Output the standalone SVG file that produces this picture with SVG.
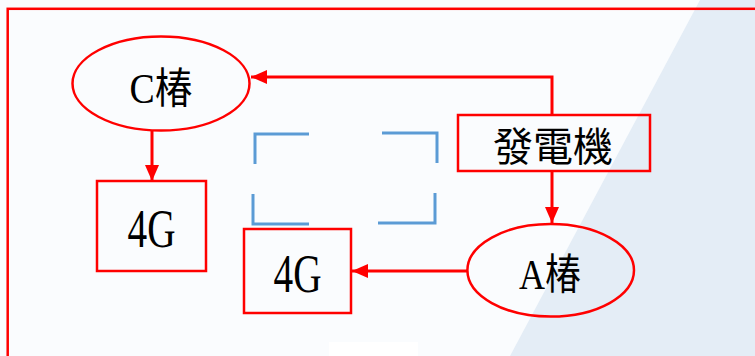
<svg xmlns="http://www.w3.org/2000/svg" width="755" height="356" viewBox="0 0 755 356">
<defs>
<style>
.shape{fill:none;stroke:#ff0000;stroke-width:2.5}
.conn{fill:none;stroke:#ff0000;stroke-width:3}
.bracket{fill:none;stroke:#5b9bd5;stroke-width:3}
.lbl{font-family:"Liberation Serif","Noto Sans CJK TC",serif;fill:#000;text-anchor:middle}
</style>
<marker id="arr" viewBox="0 0 16 14" refX="16" refY="7" markerWidth="16" markerHeight="14" markerUnits="userSpaceOnUse" orient="auto">
<path d="M0,0 L16,7 L0,14 Z" fill="#ff0000"/>
</marker>
</defs>
<rect x="0" y="0" width="755" height="356" fill="#fafcfe"/>
<polygon points="700,0 755,0 755,356 510,356" fill="#e4edf6"/>
<rect x="329" y="342" width="89" height="14" fill="#ffffff"/>
<rect x="7.7" y="8.8" width="800" height="400" fill="none" stroke="#ff0000" stroke-width="2.5"/>
<g id="brackets">
<path class="bracket" d="M309,134 H255 V164"/>
<path class="bracket" d="M382,133 H437 V163"/>
<path class="bracket" d="M253,194 V224 H309"/>
<path class="bracket" d="M435,193 V223 H378"/>
</g>
<g id="connectors">
<path class="conn" d="M552,115 V77 H251" marker-end="url(#arr)"/>
<path class="conn" d="M552,171 V223" marker-end="url(#arr)"/>
<path class="conn" d="M467,271 H352" marker-end="url(#arr)"/>
<path class="conn" d="M152,130 V181" marker-end="url(#arr)"/>
</g>
<g id="node-c">
<ellipse class="shape" cx="161" cy="83.5" rx="88.5" ry="47"/>
<text class="lbl" x="161" y="102.5" font-size="42" textLength="63" lengthAdjust="spacingAndGlyphs">C椿</text>
</g>
<g id="node-generator">
<rect class="shape" x="458" y="115" width="192" height="56"/>
<text class="lbl" x="553" y="160.5" font-size="40">發電機</text>
</g>
<g id="node-a">
<ellipse class="shape" cx="550.7" cy="270.3" rx="83.3" ry="46.3"/>
<text class="lbl" x="550" y="289" font-size="42" textLength="62" lengthAdjust="spacingAndGlyphs">A椿</text>
</g>
<g id="node-4g-left">
<rect class="shape" x="97" y="181" width="109" height="90"/>
<text class="lbl" x="151.5" y="246.5" font-size="55" textLength="48" lengthAdjust="spacingAndGlyphs">4G</text>
</g>
<g id="node-4g-right">
<rect class="shape" x="244" y="229" width="107" height="84"/>
<text class="lbl" x="297.5" y="291.5" font-size="54" textLength="48" lengthAdjust="spacingAndGlyphs">4G</text>
</g>
</svg>
